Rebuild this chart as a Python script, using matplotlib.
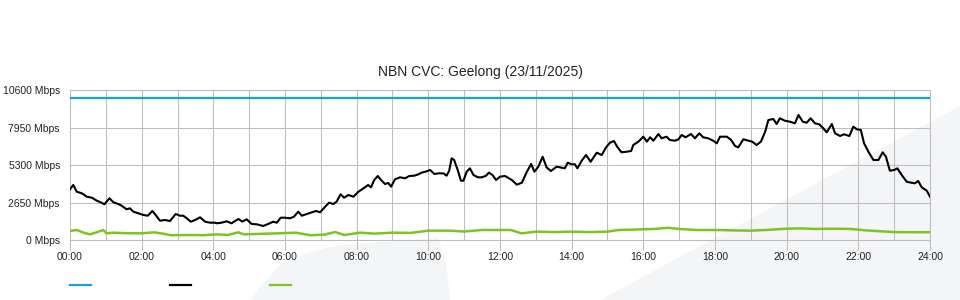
import matplotlib
matplotlib.use("Agg")
import matplotlib.pyplot as plt
from matplotlib.patches import Polygon
from matplotlib.lines import Line2D

plt.rcParams['font.family'] = ['Liberation Sans', 'DejaVu Sans']

title = "NBN CVC: Geelong (23/11/2025)"
ytick_vals = [0, 2650, 5300, 7950, 10600]
ytick_labels = ["0 Mbps", "2650 Mbps", "5300 Mbps", "7950 Mbps", "10600 Mbps"]
xtick_hours = list(range(0, 25, 2))
xtick_labels = ["%02d:00" % h for h in xtick_hours]

capacity = 10000

black_t = [0.00, 0.09, 0.19, 0.33, 0.47, 0.61, 0.75, 0.88, 0.96, 1.10, 1.21, 1.35, 1.44, 1.58,
           1.67, 1.77, 1.91, 2.05, 2.17, 2.30, 2.39, 2.51, 2.65, 2.79, 2.95, 3.07, 3.16, 3.26,
           3.37, 3.49, 3.63, 3.77, 3.91, 4.05, 4.09, 4.23, 4.37, 4.51, 4.58, 4.70, 4.81, 4.93,
           5.07, 5.21, 5.39, 5.53, 5.67, 5.77, 5.88, 6.00, 6.14, 6.25, 6.37, 6.47, 6.61, 6.75,
           6.87, 6.98, 7.12, 7.23, 7.35, 7.44, 7.55, 7.65, 7.77, 7.91, 8.05, 8.19, 8.32, 8.40,
           8.49, 8.59, 8.68, 8.79, 8.88, 8.96, 9.07, 9.21, 9.35, 9.47, 9.61, 9.72, 9.81, 9.95,
           10.05, 10.17, 10.28, 10.42, 10.51, 10.58, 10.65, 10.72, 10.82, 10.91, 10.98, 11.07,
           11.16, 11.26, 11.38, 11.49, 11.60, 11.69, 11.79, 11.89, 12.00, 12.14, 12.33, 12.47,
           12.61, 12.75, 12.87, 12.96, 13.07, 13.19, 13.30, 13.42, 13.58, 13.72, 13.81, 13.89,
           14.00, 14.09, 14.16, 14.28, 14.40, 14.53, 14.70, 14.84, 14.96, 15.07, 15.18, 15.27,
           15.39, 15.54, 15.66, 15.72, 15.86, 16.00, 16.10, 16.19, 16.28, 16.42, 16.51, 16.65,
           16.74, 16.88, 16.98, 17.07, 17.18, 17.33, 17.44, 17.56, 17.67, 17.81, 17.95, 18.05,
           18.14, 18.33, 18.45, 18.56, 18.65, 18.79, 18.93, 19.04, 19.16, 19.28, 19.40, 19.49,
           19.63, 19.72, 19.81, 19.95, 20.09, 20.23, 20.33, 20.45, 20.56, 20.67, 20.79, 20.91,
           21.02, 21.12, 21.26, 21.35, 21.49, 21.60, 21.75, 21.86, 21.96, 22.07, 22.16, 22.28,
           22.42, 22.56, 22.68, 22.77, 22.88, 23.00, 23.09, 23.21, 23.35, 23.47, 23.58, 23.67,
           23.77, 23.91, 24.00]
black_v = [3583, 3887, 3413, 3300, 3060, 2990, 2777, 2636, 2523, 2947, 2664, 2544, 2424, 2170,
           2240, 2000, 1887, 1767, 1717, 2050, 1767, 1364, 1413, 1343, 1837, 1717, 1717, 1533,
           1293, 1413, 1604, 1293, 1223, 1223, 1180, 1223, 1321, 1180, 1300, 1484, 1300, 1463,
           1131, 1110, 989, 1131, 1293, 1223, 1576, 1576, 1533, 1647, 2000, 1717, 1837, 1957,
           2050, 1957, 2353, 2636, 2544, 2707, 3230, 2990, 3180, 3060, 3413, 3650, 3887, 3720,
           4240, 4523, 4240, 3957, 4028, 3770, 4290, 4430, 4360, 4523, 4545, 4640, 4757, 4853,
           4947, 4664, 4710, 4710, 4545, 4876, 5770, 5653, 4947, 4190, 4190, 4828,
           5065, 4594, 4430, 4430, 4523, 4757, 4594, 4240, 4476, 4523, 4240, 3910,
           4050, 4828, 5370, 4828, 5180, 5887, 5136, 4876, 5180, 5110, 5065, 5463,
           5350, 5350, 5065, 5604, 6007, 5533, 6170, 6007, 6550, 6876, 6996, 6593,
           6198, 6240, 6290, 6713, 6947, 7300, 6950, 7258, 7017, 7490, 7187, 7300,
           7067, 7017, 7116, 7420, 7258, 7490, 7187, 7540, 7258, 7187, 7017, 6833,
           7300, 7300, 7067, 6643, 6550, 7116, 7017, 6947, 6713, 6947, 7654, 8480,
           8551, 8198, 8600, 8430, 8360, 8245, 8834, 8360, 8290, 8600, 8245, 8176,
           7893, 7610, 8198, 7540, 7350, 7470, 7350, 8010, 7823, 7773, 6833, 6240,
           5653, 5653, 6198, 5887, 4897, 4947, 5065, 4594, 4120, 4050, 4005, 4170,
           3720, 3484, 3060]

green_t = [0.00, 0.19, 0.40, 0.56, 0.80, 0.93, 1.02, 1.20, 1.60, 2.00, 2.35, 2.65, 2.80, 3.30,
           3.75, 4.10, 4.40, 4.70, 4.85, 5.80, 6.30, 6.70, 7.10, 7.40, 7.65, 8.10, 8.50, 9.00,
           9.50, 10.00, 10.60, 11.00, 11.50, 12.30, 12.60, 13.00, 13.50, 14.00, 14.50, 15.00,
           15.30, 15.80, 16.30, 16.70, 17.00, 17.50, 18.00, 18.50, 19.00, 19.50, 20.00, 20.40,
           20.80, 21.30, 21.80, 22.20, 22.60, 23.00, 23.50, 24.00]
green_v = [636, 707, 500, 400, 590, 707, 471, 518, 480, 471, 542, 424, 340, 353,
           340, 400, 353, 542, 400, 471, 518, 340, 380, 565, 353, 518, 450, 520,
           500, 660, 660, 600, 707, 707, 471, 589, 560, 589, 560, 589,
           707, 740, 780, 860, 780, 707, 707, 680, 660, 720, 800, 820,
           780, 800, 780, 680, 620, 560, 550, 550]

BLUE = '#1ba1e2'
BLACK = '#000000'
GREEN = '#7dc421'
GRID = '#bdbdbd'
WATER = '#f4f5f7'
TEXT = '#222222'

W, H = 960, 300
fig = plt.figure(figsize=(9.6, 3.0), dpi=100)
fig.patch.set_facecolor('white')


def fp(pts):
    return [(x / W, 1 - y / H) for x, y in pts]


# faint watermark shapes (behind the transparent plot area)
blob = [(250, 300), (262, 285), (283, 262), (310, 252), (335, 246), (367, 243), (400, 241),
        (438, 238), (446, 262), (450, 300)]
band = [(600, 300), (960, 106), (960, 300)]
for shape in (blob, band):
    fig.patches.append(Polygon(fp(shape), closed=True, transform=fig.transFigure,
                               facecolor=WATER, edgecolor='none', zorder=-5))

ax = fig.add_axes([70 / W, 1 - 240 / H, 860 / W, 150 / H])
ax.set_zorder(1)
ax.set_facecolor('none')
ax.set_xlim(0, 24)
ax.set_ylim(0, 10600)

ax.set_xticks(xtick_hours)
ax.set_xticklabels(xtick_labels, fontsize=7.5, color=TEXT)
ax.set_xticks(range(0, 25), minor=True)
ax.set_yticks(ytick_vals)
ax.set_yticklabels(ytick_labels, fontsize=7.5, color=TEXT)

ax.tick_params(axis='x', which='major', length=7.2, width=0.75, color=GRID, pad=1.8)
ax.tick_params(axis='x', which='minor', length=0)
ax.tick_params(axis='y', length=0, pad=7.2)

ax.grid(True, which='both', axis='x', color=GRID, linewidth=0.75)
ax.grid(True, which='major', axis='y', color=GRID, linewidth=0.75)
ax.set_axisbelow(True)
for s in ax.spines.values():
    s.set_color(GRID)
    s.set_linewidth(0.75)

ax.axhline(capacity, color=BLUE, linewidth=1.6, zorder=3)
ax.plot(green_t, green_v, color=GREEN, linewidth=1.8, zorder=3)
ax.plot(black_t, black_v, color=BLACK, linewidth=1.5, zorder=4)

fig.text(0.5, 1 - 75.7 / H, title, ha='center', va='baseline', fontsize=10, color=TEXT)

for x0, c in [(70, BLUE), (170, BLACK), (270, GREEN)]:
    fig.lines.append(Line2D([x0 / W, (x0 + 21) / W], [1 - 285 / H, 1 - 285 / H],
                            transform=fig.transFigure, color=c, linewidth=1.6))

fig.savefig('out.png', dpi=100)
